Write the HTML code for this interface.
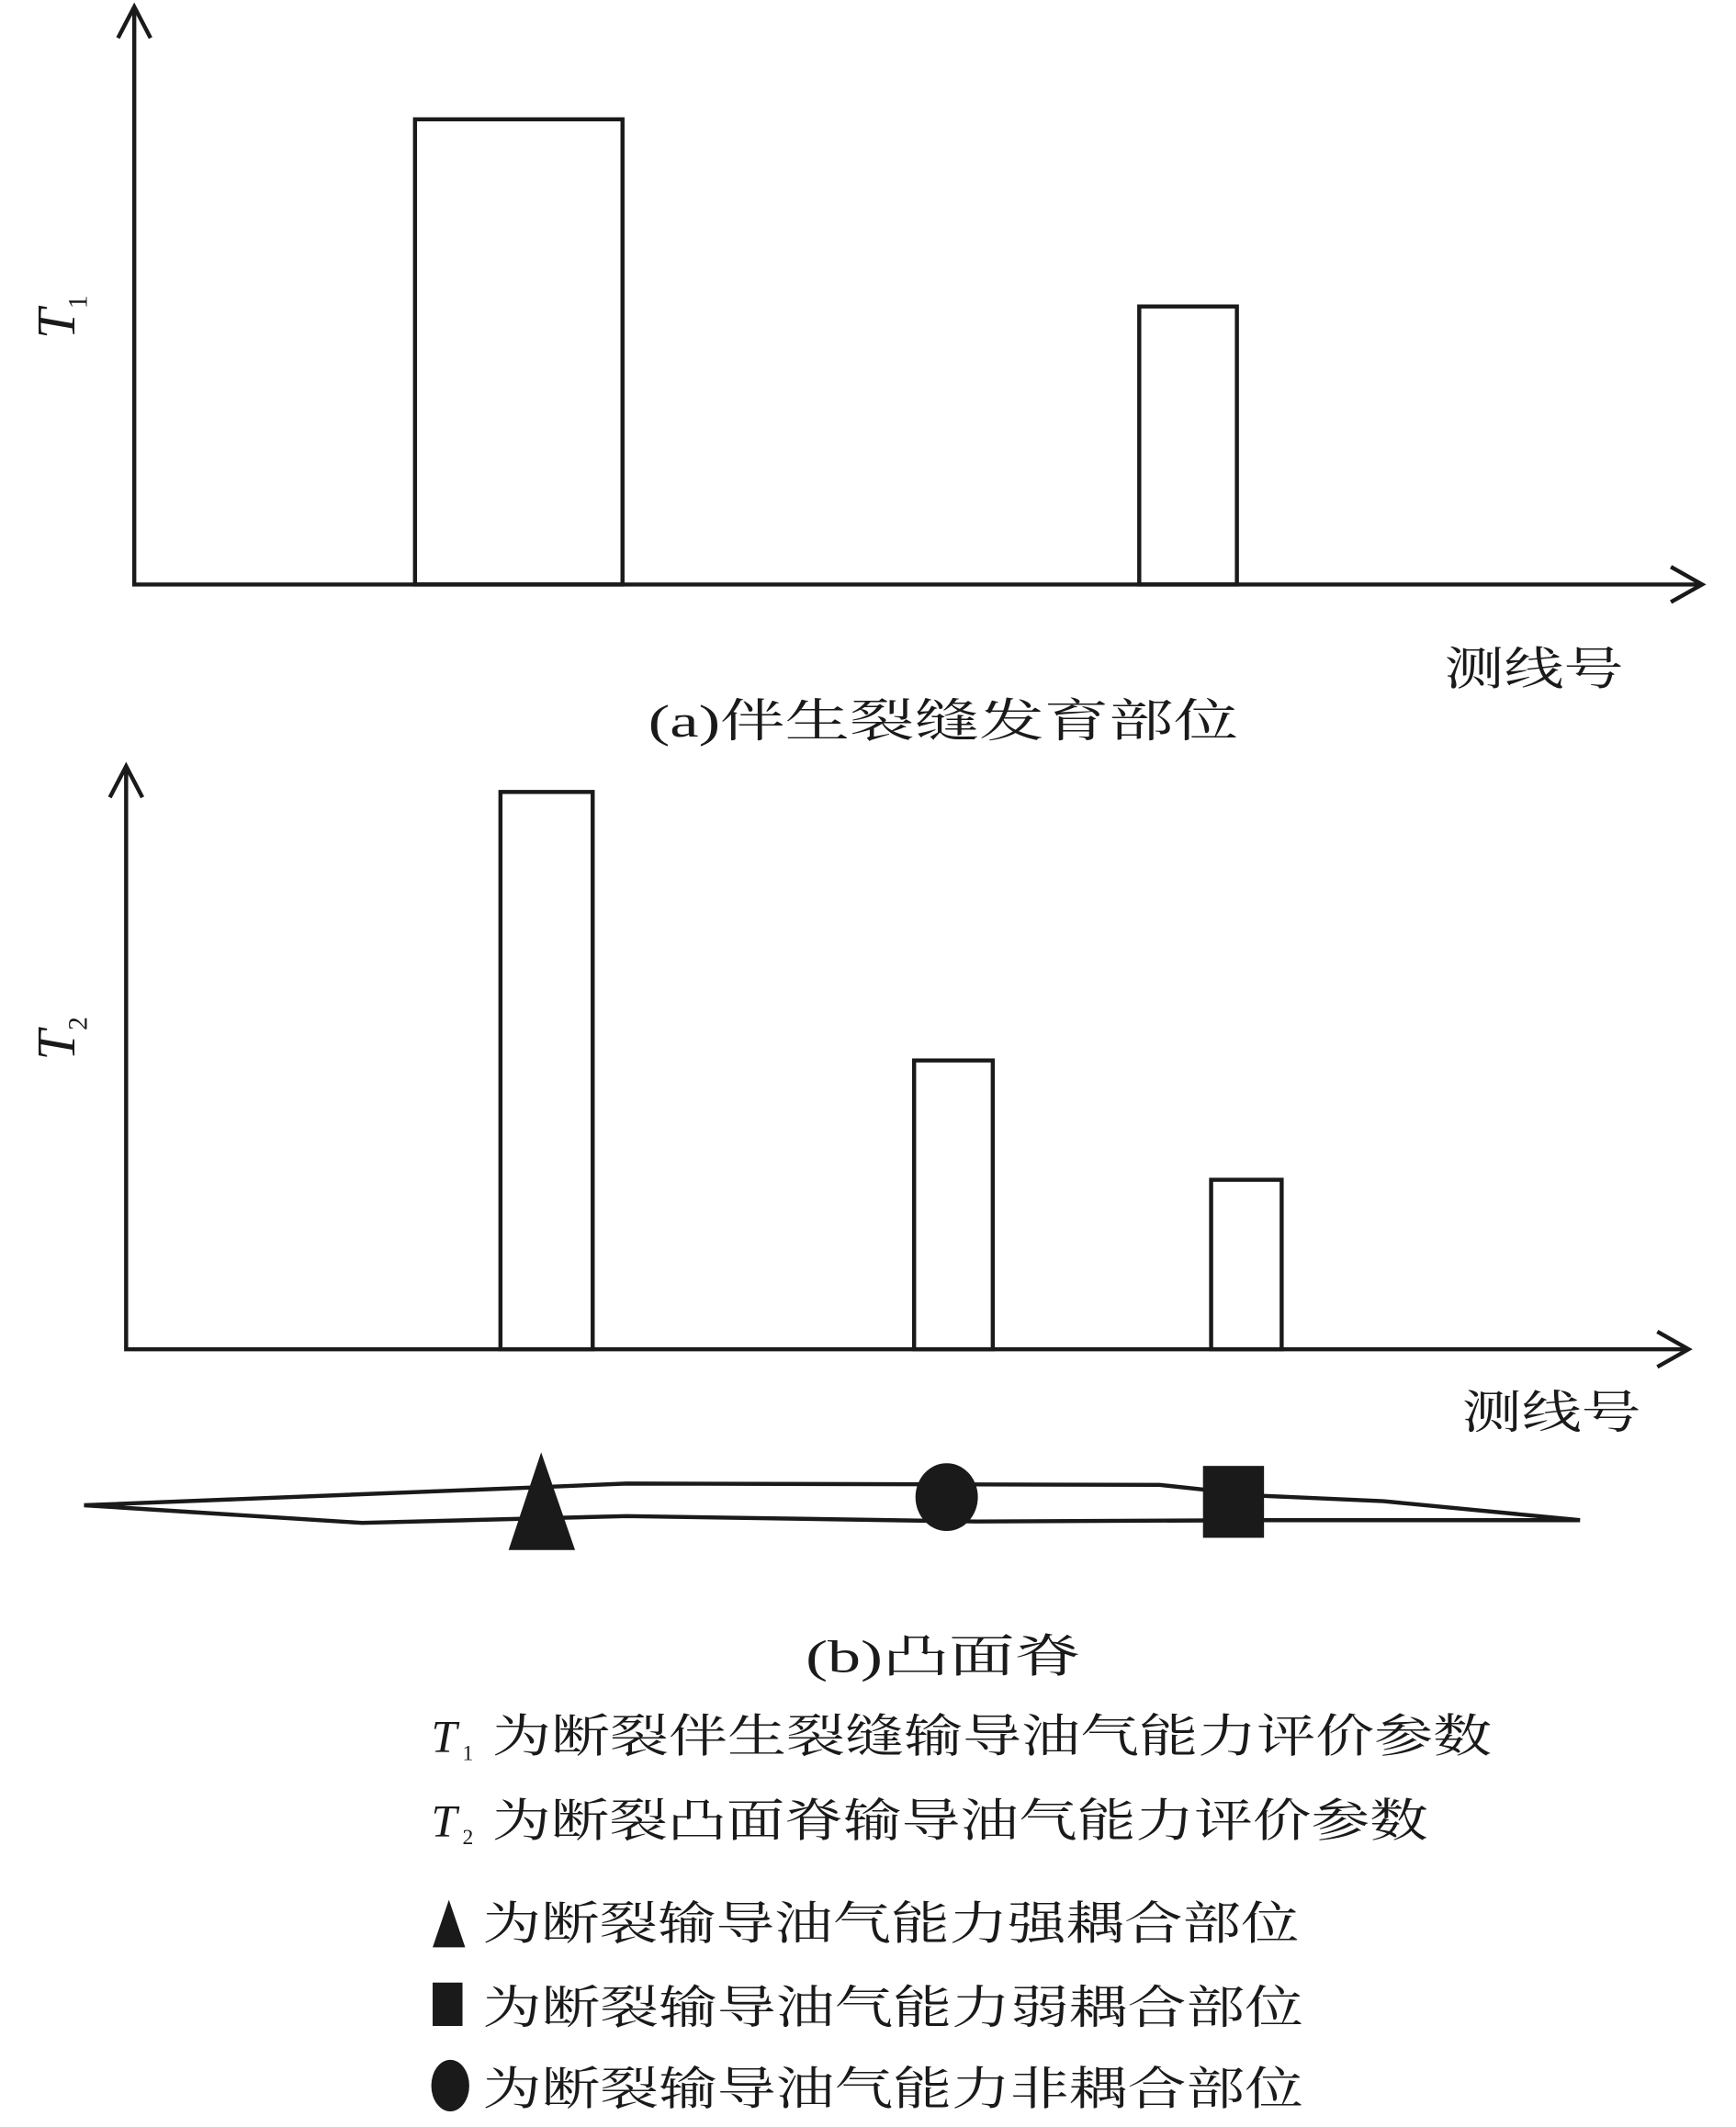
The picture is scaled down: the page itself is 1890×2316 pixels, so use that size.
<!DOCTYPE html>
<html><head><meta charset="utf-8"><style>html,body{margin:0;padding:0;background:#fff}svg{display:block}</style></head>
<body>
<svg width="1890" height="2316" viewBox="0 0 1280 1568.5" xmlns="http://www.w3.org/2000/svg" font-family="'Liberation Serif','Noto Serif CJK SC',serif" fill="#1a1a1a">
<g stroke="#1a1a1a" stroke-width="3" fill="none">
<polyline points="99,5 99,431 1255,431"/>
<polyline points="87,28 99,5 111,28"/>
<polyline points="1232,418 1255,431 1232,444"/>
<rect x="306" y="88" width="153" height="343"/>
<rect x="840" y="226" width="72" height="205"/>
<polyline points="93,565 93,995 1245,995"/>
<polyline points="81,588 93,565 105,588"/>
<polyline points="1222,982 1245,995 1222,1008"/>
<rect x="369" y="584" width="68" height="411"/>
<rect x="674" y="782" width="58" height="213"/>
<rect x="893" y="870" width="52" height="125"/>
<polygon points="62,1110 390,1097 462,1094 855,1095 930,1103 1020,1107 1165,1121 930,1121 720,1122 462,1118 267,1123"/>
</g>
<polygon points="399,1071 375,1143 424,1143"/>
<ellipse cx="698" cy="1104" rx="23" ry="25"/>
<rect x="887" y="1081" width="45" height="53"/>
<g font-size="34">
<text transform="translate(55,250) rotate(-90)" font-style="italic" font-size="40">T<tspan font-size="20" font-style="normal" dy="9">1</tspan></text>
<text transform="translate(55,782) rotate(-90)" font-style="italic" font-size="40">T<tspan font-size="20" font-style="normal" dy="9">2</tspan></text>
<text x="1065" y="505" textLength="132" lengthAdjust="spacingAndGlyphs">测线号</text>
<text x="1078" y="1053" textLength="132" lengthAdjust="spacingAndGlyphs">测线号</text>
<text x="478" y="543" textLength="435" lengthAdjust="spacingAndGlyphs">(a)伴生裂缝发育部位</text>
<text x="594" y="1233" textLength="203" lengthAdjust="spacingAndGlyphs">(b)凸面脊</text>
<text x="318" y="1292" font-style="italic">T</text><text x="341" y="1298" font-size="16">1</text>
<text x="363" y="1292" textLength="737" lengthAdjust="spacingAndGlyphs">为断裂伴生裂缝输导油气能力评价参数</text>
<text x="318" y="1354" font-style="italic">T</text><text x="341" y="1360" font-size="16">2</text>
<text x="363" y="1354" textLength="690" lengthAdjust="spacingAndGlyphs">为断裂凸面脊输导油气能力评价参数</text>
<text x="356" y="1430" textLength="602" lengthAdjust="spacingAndGlyphs">为断裂输导油气能力强耦合部位</text>
<text x="356" y="1492" textLength="605" lengthAdjust="spacingAndGlyphs">为断裂输导油气能力弱耦合部位</text>
<text x="356" y="1552" textLength="605" lengthAdjust="spacingAndGlyphs">为断裂输导油气能力非耦合部位</text>
</g>
<polygon points="331,1401 319,1436 343,1436"/>
<rect x="319" y="1462" width="22" height="32"/>
<ellipse cx="332" cy="1538" rx="14" ry="19"/>
</svg>
</body></html>
